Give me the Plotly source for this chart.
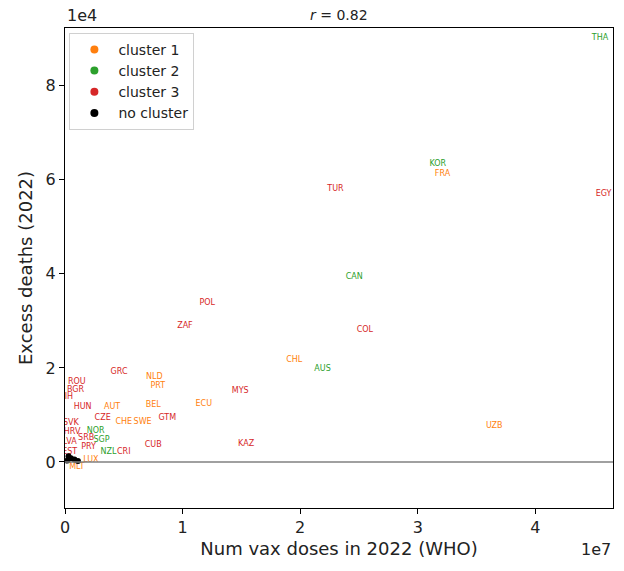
import plotly.graph_objects as go

# ---- data ----
c1_labels = ["FRA", "CHL", "NLD", "PRT", "AUT", "BEL", "ECU", "CHE", "SWE", "UZB", "LUX", "MLT"]
c1_x = [3.21e7, 1.95e7, 0.76e7, 0.79e7, 0.40e7, 0.75e7, 1.18e7, 0.50e7, 0.66e7, 3.65e7, 0.22e7, 0.10e7]
c1_y = [6.12e4, 2.17e4, 1.81e4, 1.62e4, 1.17e4, 1.21e4, 1.23e4, 0.85e4, 0.85e4, 0.77e4, 0.05e4, -0.10e4]

c2_labels = ["THA", "KOR", "CAN", "AUS", "NOR", "SGP", "NZL"]
c2_x = [4.55e7, 3.17e7, 2.46e7, 2.19e7, 0.26e7, 0.31e7, 0.37e7]
c2_y = [9.02e4, 6.33e4, 3.94e4, 1.98e4, 0.66e4, 0.47e4, 0.21e4]

c3_labels = ["TUR", "EGY", "POL", "ZAF", "COL", "MYS", "GRC", "ROU", "BGR", "BIH", "HUN", "CZE",
             "GTM", "CUB", "KAZ", "CRI", "SVK", "HRV", "SRB", "PRY", "LVA", "EST"]
c3_x = [2.30e7, 4.58e7, 1.21e7, 1.02e7, 2.55e7, 1.49e7, 0.46e7, 0.10e7, 0.09e7, 0.01e7, 0.15e7, 0.32e7,
        0.87e7, 0.75e7, 1.54e7, 0.50e7, 0.05e7, 0.06e7, 0.18e7, 0.20e7, 0.04e7, 0.04e7]
c3_y = [5.81e4, 5.70e4, 3.38e4, 2.89e4, 2.81e4, 1.51e4, 1.91e4, 1.70e4, 1.53e4, 1.38e4, 1.17e4, 0.94e4,
        0.94e4, 0.36e4, 0.38e4, 0.21e4, 0.82e4, 0.64e4, 0.50e4, 0.32e4, 0.42e4, 0.22e4]

nc_x = [0.05e7, 0.02e7, 0.08e7, 0.11e7, 0.03e7]
nc_y = [0.08e4, 0.03e4, 0.05e4, 0.02e4, 0.12e4]

colors = {"cluster 1": "#ff7f0e", "cluster 2": "#2ca02c", "cluster 3": "#d62728", "no cluster": "#000000"}

fig = go.Figure()

groups = [("cluster 1", c1_labels, c1_x, c1_y),
          ("cluster 2", c2_labels, c2_x, c2_y),
          ("cluster 3", c3_labels, c3_x, c3_y)]

for name, labs, xs, ys in groups:
    fig.add_trace(go.Scatter(x=xs, y=ys, mode="text", text=labs, showlegend=False,
                             textfont=dict(family="DejaVu Sans", size=8, color=colors[name])))

fig.add_trace(go.Scatter(x=nc_x, y=nc_y, mode="markers", showlegend=False,
                         marker=dict(color=colors["no cluster"], size=6), hoverinfo="skip"))

for name in ["cluster 1", "cluster 2", "cluster 3", "no cluster"]:
    fig.add_trace(go.Scatter(x=[None], y=[None], mode="markers", name=name,
                             marker=dict(color=colors[name], size=8)))

fig.add_hline(y=0, line=dict(color="#808080", width=1.5))

axis_common = dict(showgrid=False, zeroline=False, showline=True, linecolor="black", linewidth=1,
                   mirror=True, ticks="outside", ticklen=5, tickcolor="black", automargin=False,
                   tickfont=dict(family="DejaVu Sans", size=16, color="#222"))

fig.update_xaxes(range=[0, 4.66e7], tickvals=[0, 1e7, 2e7, 3e7, 4e7], ticktext=["0", "1", "2", "3", "4"],
                 title=dict(text="Num vax doses in 2022 (WHO)", font=dict(family="DejaVu Sans", size=18, color="#222"),
                            standoff=6),
                 **axis_common)
fig.update_yaxes(range=[-0.98e4, 9.23e4], tickvals=[0, 2e4, 4e4, 6e4, 8e4], ticktext=["0", "2", "4", "6", "8"],
                 title=dict(text="Excess deaths (2022)", font=dict(family="DejaVu Sans", size=18, color="#222"),
                            standoff=8),
                 **axis_common)

fig.update_layout(
    width=624, height=571,
    margin=dict(l=65, r=11, t=28, b=63),
    plot_bgcolor="white", paper_bgcolor="white",
    font=dict(family="DejaVu Sans", color="#222"),
    legend=dict(x=0.008, y=0.99, xanchor="left", yanchor="top",
                bordercolor="#d0d0d0", borderwidth=1, bgcolor="rgba(255,255,255,0.8)",
                font=dict(family="DejaVu Sans", size=14, color="#222"), itemwidth=38, tracegroupgap=0),
    annotations=[
        dict(text="<i>r</i> = 0.82", x=0.5, y=1, xref="paper", yref="paper", xanchor="center", yanchor="bottom",
             yshift=3, showarrow=False, font=dict(family="DejaVu Sans", size=14, color="#222")),
        dict(text="1e4", x=0, y=1, xref="paper", yref="paper", xanchor="left", yanchor="bottom",
             yshift=1, showarrow=False, font=dict(family="DejaVu Sans", size=16, color="#222")),
        dict(text="1e7", x=1, y=0, xref="paper", yref="paper", xanchor="right", yanchor="top",
             yshift=-30, showarrow=False, font=dict(family="DejaVu Sans", size=16, color="#222")),
    ],
)

fig.write_html("out.html", config={"displayModeBar": False},
               post_script="document.body.style.margin='0';")
